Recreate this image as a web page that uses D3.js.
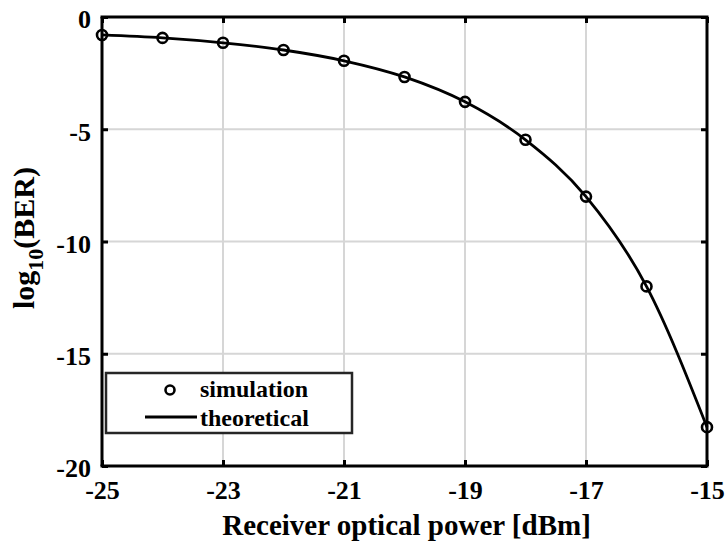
<!DOCTYPE html>
<html><head><meta charset="utf-8">
<script src="https://cdn.jsdelivr.net/npm/d3@7"></script>
<style>body{margin:0;background:#fff}svg{display:block}</style>
</head><body>
<script>
const powerDbm = [-25,-24,-23,-22,-21,-20,-19,-18,-17,-16,-15];
const simulation = [-0.8,-0.93,-1.15,-1.47,-1.95,-2.67,-3.78,-5.47,-8.0,-12.0,-18.27];
const theoretical = [-0.8,-0.93,-1.15,-1.47,-1.95,-2.67,-3.78,-5.47,-8.0,-12.0,-18.27];
const xTicks = [-25,-23,-21,-19,-17,-15];
const yTicks = [0,-5,-10,-15,-20];
const legendLabels = ["simulation","theoretical"];

const W=727,H=543;
const m={l:102,r:20,t:17,b:77};
const svg=d3.select("body").append("svg").attr("width",W).attr("height",H);
const x=d3.scaleLinear().domain([-25,-15]).range([m.l,W-m.r]);
const y=d3.scaleLinear().domain([-20,0]).range([H-m.b,m.t]);
const font="'Liberation Serif','Times New Roman',serif";
const fmt=d=>String(d);

// grid
svg.append("g").selectAll("line").data(xTicks.slice(1,-1)).join("line")
 .attr("x1",d=>x(d)).attr("x2",d=>x(d)).attr("y1",y(0)).attr("y2",y(-20))
 .attr("stroke","#d6d6d6").attr("stroke-width",2);
svg.append("g").selectAll("line").data(yTicks.slice(1,-1)).join("line")
 .attr("y1",d=>y(d)).attr("y2",d=>y(d)).attr("x1",x(-25)).attr("x2",x(-15))
 .attr("stroke","#d6d6d6").attr("stroke-width",2);

// axes
const ax=svg.append("g").attr("transform",`translate(0,${y(-20)})`)
 .call(d3.axisBottom(x).tickValues(xTicks).tickSize(-6).tickPadding(15).tickFormat(fmt));
const ay=svg.append("g").attr("transform",`translate(${x(-25)},0)`)
 .call(d3.axisLeft(y).tickValues(yTicks).tickSize(-6).tickPadding(11).tickFormat(fmt));
const at=svg.append("g").attr("transform",`translate(0,${y(0)})`)
 .call(d3.axisTop(x).tickValues(xTicks).tickSize(-6).tickFormat(""));
const ar=svg.append("g").attr("transform",`translate(${x(-15)},0)`)
 .call(d3.axisRight(y).tickValues(yTicks).tickSize(-6).tickFormat(""));
[ax,ay,at,ar].forEach(g=>{
 g.select(".domain").attr("stroke","#000").attr("stroke-width",3);
 g.selectAll(".tick line").attr("stroke","#000").attr("stroke-width",3);
 g.selectAll("text").attr("font-family",font).attr("font-weight","bold").attr("font-size",26).attr("fill","#000");
});
ax.select(".domain").attr("d",`M${x(-25)-1.5},0H${x(-15)+1.5}`);
ay.select(".domain").attr("d",`M0,${y(-20)}V${y(0)}`);
at.select(".domain").attr("d",`M${x(-25)-1.5},0H${x(-15)+1.5}`);
ar.select(".domain").attr("d",`M0,${y(-20)}V${y(0)}`);
ay.selectAll("text").attr("dy","0.42em");

// line
svg.append("path").datum(powerDbm.map((p,i)=>[p,theoretical[i]]))
 .attr("d",d3.line().x(d=>x(d[0])).y(d=>y(d[1])).curve(d3.curveMonotoneX))
 .attr("fill","none").attr("stroke","#000").attr("stroke-width",2.8);
svg.append("g").selectAll("circle").data(powerDbm.map((p,i)=>[p,simulation[i]])).join("circle")
 .attr("cx",d=>x(d[0])).attr("cy",d=>y(d[1])).attr("r",5)
 .attr("fill","none").attr("stroke","#000").attr("stroke-width",2.6);

// labels
svg.append("text").attr("x",(x(-25)+x(-15))/2+2).attr("y",535).attr("text-anchor","middle")
 .attr("font-family",font).attr("font-weight","bold").attr("font-size",29).text("Receiver optical power [dBm]");
const yl=svg.append("text").attr("transform",`translate(34,238) rotate(-90)`).attr("text-anchor","middle")
 .attr("font-family",font).attr("font-weight","bold").attr("font-size",30);
yl.append("tspan").text("log");
yl.append("tspan").attr("font-size",22).attr("dy",9).text("10");
yl.append("tspan").attr("dy",-9).text("(BER)");

// legend
const lg=svg.append("g");
lg.append("rect").attr("x",106).attr("y",373).attr("width",246).attr("height",60)
 .attr("fill","#fff").attr("stroke","#262626").attr("stroke-width",2.5);
lg.append("circle").attr("cx",170).attr("cy",390).attr("r",4.5).attr("fill","none").attr("stroke","#000").attr("stroke-width",2.6);
lg.append("line").attr("x1",145).attr("x2",197).attr("y1",417).attr("y2",417).attr("stroke","#000").attr("stroke-width",2.8);
lg.selectAll("text").data(legendLabels).join("text")
 .attr("x",200).attr("y",(d,i)=>397+i*29)
 .attr("font-family",font).attr("font-weight","bold").attr("font-size",24).text(d=>d);
</script>
</body></html>
